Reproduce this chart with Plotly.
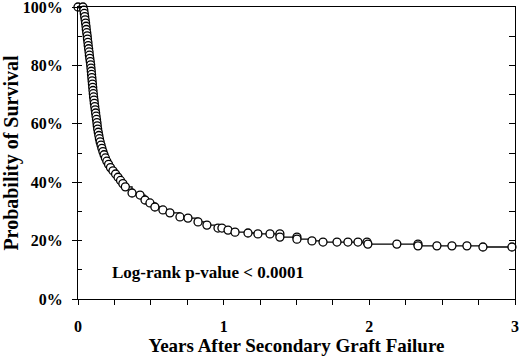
import plotly.graph_objects as go

# Kaplan-Meier estimate (years, % surviving)
years = [0.000, 0.034, 0.040, 0.043, 0.046, 0.049, 0.052, 0.055, 0.057, 0.060,
         0.063, 0.065, 0.068, 0.070, 0.073, 0.076, 0.078, 0.081, 0.084, 0.087,
         0.089, 0.091, 0.093, 0.095, 0.097, 0.099, 0.101, 0.103, 0.105, 0.107,
         0.110, 0.112, 0.115, 0.118, 0.121, 0.124, 0.127, 0.130, 0.132, 0.135,
         0.139, 0.143, 0.147, 0.152, 0.158, 0.164, 0.171, 0.179, 0.188, 0.198,
         0.210, 0.223, 0.240, 0.258, 0.275, 0.292, 0.308, 0.325,
         0.371, 0.426, 0.460, 0.494, 0.528, 0.583, 0.631, 0.700, 0.755, 0.824,
         0.885, 0.961, 0.988, 1.030, 1.078, 1.167, 1.235, 1.318, 1.386, 1.386,
         1.503, 1.503, 1.606, 1.682, 1.778, 1.853, 1.922, 1.984, 1.990, 2.189,
         2.334, 2.334, 2.464, 2.567, 2.670, 2.780, 2.979]
survival = [100.0, 100.0, 98.9, 97.8, 96.7, 95.6, 94.5, 93.4, 92.3, 91.2,
            90.1, 89.0, 87.9, 86.8, 85.7, 84.6, 83.5, 82.4, 81.3, 80.2,
            79.1, 78.0, 76.9, 75.8, 74.7, 73.6, 72.5, 71.4, 70.3, 69.2,
            68.1, 67.0, 65.9, 64.8, 63.7, 62.6, 61.5, 60.4, 59.3, 58.2,
            57.1, 56.0, 54.9, 53.8, 52.7, 51.6, 50.5, 49.4, 48.3, 47.2,
            46.1, 45.0, 43.9, 42.8, 41.7, 40.6, 39.5, 38.4,
            36.3, 35.6, 33.9, 32.9, 31.5, 30.5, 29.5, 28.1, 27.7, 26.4,
            25.3, 24.3, 24.3, 23.6, 22.9, 22.6, 22.3, 22.3, 22.3, 21.2,
            21.2, 20.5, 19.9, 19.5, 19.5, 19.5, 19.5, 19.5, 18.8, 18.8,
            18.8, 18.2, 18.2, 18.2, 18.2, 17.8, 17.8]

x_ticks = [0, 1, 2, 3]
y_ticks = [0, 20, 40, 60, 80, 100]
y_ticktext = ["0%", "20%", "40%", "60%", "80%", "100%"]

FONT = "Liberation Serif, Times New Roman, serif"

fig = go.Figure()
fig.add_trace(go.Scatter(
    x=years, y=survival, mode="lines+markers", line_shape="hv",
    line=dict(color="black", width=1.3),
    marker=dict(symbol="circle", size=8, color="white",
                line=dict(color="black", width=1.3)),
    cliponaxis=False, showlegend=False, hoverinfo="skip"))
# invisible trace to anchor the right-hand tick axis
fig.add_trace(go.Scatter(x=[0], y=[0], yaxis="y2", mode="markers",
                         marker=dict(opacity=0), showlegend=False, hoverinfo="skip"))

fig.update_layout(
    width=520, height=361,
    margin=dict(l=78, r=5, t=7, b=62, autoexpand=False),
    plot_bgcolor="white", paper_bgcolor="white",
    font=dict(family=FONT, color="black", size=16, weight="bold"),
    xaxis=dict(range=[0, 3], tickvals=x_ticks, showgrid=False, zeroline=False,
               automargin=False, ticklabeloverflow="allow",
               showline=True, linecolor="black", linewidth=1.3, mirror=True,
               ticks="outside", ticklen=5, tickcolor="black", tickwidth=1.2,
               ticklabelstandoff=8,
               minor=dict(dtick=0.25, ticks="outside", ticklen=5,
                          tickcolor="black", tickwidth=1.2),
               tickfont=dict(size=16, family=FONT, weight="bold"),
               title=dict(text="Years After Secondary Graft Failure",
                          font=dict(size=19, family=FONT, weight="bold"),
                          standoff=4)),
    yaxis=dict(range=[0, 100], tickvals=y_ticks, ticktext=y_ticktext,
               showgrid=False, zeroline=False,
               automargin=False, ticklabeloverflow="allow",
               showline=True, linecolor="black", linewidth=1.3, mirror=True,
               ticks="outside", ticklen=5, tickcolor="black", tickwidth=1.2,
               ticklabelstandoff=6,
               minor=dict(dtick=10, ticks="inside", ticklen=4,
                          tickcolor="black", tickwidth=1.2),
               tickfont=dict(size=16, family=FONT, weight="bold"),
               title=dict(text="Probability of Survival",
                          font=dict(size=20, family=FONT, weight="bold"),
                          standoff=6)),
    yaxis2=dict(range=[0, 100], overlaying="y", side="right", dtick=10,
                showgrid=False, zeroline=False, showticklabels=False,
                automargin=False,
                ticks="inside", ticklen=6, tickcolor="black", tickwidth=1.2,
                showline=False),
    annotations=[dict(x=0.22, y=9, xref="x", yref="y", xanchor="left",
                      yanchor="middle", showarrow=False,
                      text="Log-rank p-value < 0.0001",
                      font=dict(size=17, family=FONT, weight="bold"))],
)

fig.write_html("out.html", config={"displayModeBar": False},
               post_script="document.body.style.margin='0';"
                           "document.body.style.overflow='hidden';")
